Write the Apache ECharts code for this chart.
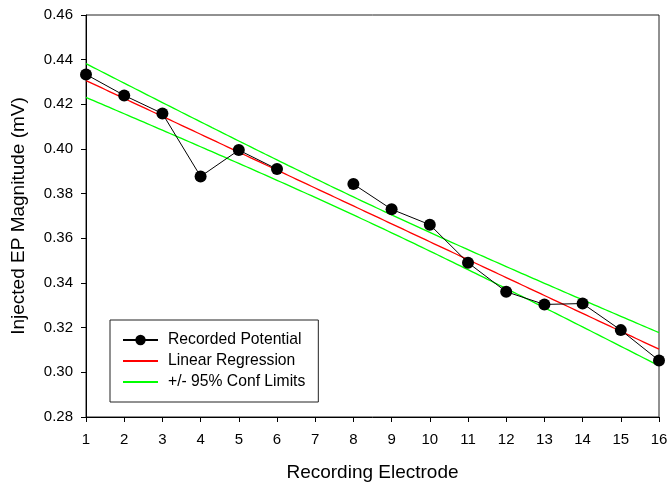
<!DOCTYPE html>
<html>
<head>
<meta charset="utf-8">
<script src="https://cdn.jsdelivr.net/npm/echarts@6/dist/echarts.min.js"></script>
<style>
  html, body { margin: 0; padding: 0; background: #fff; }
  #chart { width: 667px; height: 483px; }
</style>
</head>
<body>
<div id="chart"></div>
<script>
// Recorded EP magnitude at each electrode (electrode 7 has no recording)
const electrode = [1, 2, 3, 4, 5, 6, 8, 9, 10, 11, 12, 13, 14, 15, 16];
const magnitude = [0.4334, 0.4240, 0.4159, 0.3877, 0.3995, 0.3910, 0.3843, 0.3730,
                   0.3661, 0.3491, 0.3361, 0.3304, 0.3308, 0.3189, 0.3053];
const xTicks = [1, 2, 3, 4, 5, 6, 7, 8, 9, 10, 11, 12, 13, 14, 15, 16];
const yTicks = [0.28, 0.30, 0.32, 0.34, 0.36, 0.38, 0.40, 0.42, 0.44, 0.46];
const tCrit = 2.160; // two-sided 95%, df = n - 2 = 13

// Least-squares fit and 95% confidence band of the mean response
const n = electrode.length;
const xMean = electrode.reduce((a, b) => a + b, 0) / n;
const yMean = magnitude.reduce((a, b) => a + b, 0) / n;
let sxx = 0, sxy = 0;
for (let i = 0; i < n; i++) {
  sxx += (electrode[i] - xMean) ** 2;
  sxy += (electrode[i] - xMean) * (magnitude[i] - yMean);
}
const slope = sxy / sxx;
const intercept = yMean - slope * xMean;
let sse = 0;
for (let i = 0; i < n; i++) {
  sse += (magnitude[i] - (intercept + slope * electrode[i])) ** 2;
}
const s = Math.sqrt(sse / (n - 2));

const fitX = [];
for (let k = 0; k <= 150; k++) fitX.push(xTicks[0] + k * (xTicks[xTicks.length - 1] - xTicks[0]) / 150);
const fitLine = [], upper = [], lower = [];
fitX.forEach(x => {
  const y = intercept + slope * x;
  const h = tCrit * s * Math.sqrt(1 / n + (x - xMean) ** 2 / sxx);
  fitLine.push([x, y]);
  upper.push([x, y + h]);
  lower.push([x, y - h]);
});

// Recorded points, with a break in the line where an electrode is missing
const recorded = [];
electrode.forEach((x, i) => {
  if (i > 0 && x - electrode[i - 1] > 1) recorded.push([electrode[i - 1] + 1, '-']);
  recorded.push([x, magnitude[i]]);
});

const font = 'Arial, "Liberation Sans", sans-serif';
const chart = echarts.init(document.getElementById('chart'));
chart.setOption({
  animation: false,
  textStyle: { fontFamily: font },
  grid: {
    left: 86, right: 8, top: 15, bottom: 66,
    containLabel: false, outerBoundsMode: 'none',
    show: true, borderColor: '#222', borderWidth: 1
  },
  legend: {
    orient: 'vertical',
    left: 110, top: 320,
    padding: [12, 13, 12, 12],
    itemWidth: 35, itemHeight: 13, itemGap: 5,
    borderColor: '#222', borderWidth: 1,
    backgroundColor: '#fff',
    textStyle: { fontSize: 15.7, color: '#000', fontFamily: font, lineHeight: 15,
                 padding: [0, 0, 0, 5] },
    data: [
      { name: 'Recorded Potential' },
      { name: 'Linear Regression', itemStyle: { opacity: 0 } },
      { name: '+/- 95% Conf Limits', itemStyle: { opacity: 0 } }
    ]
  },
  xAxis: {
    type: 'value',
    min: xTicks[0], max: xTicks[xTicks.length - 1], interval: 1,
    name: 'Recording Electrode',
    nameLocation: 'middle', nameGap: 46,
    nameTextStyle: { fontSize: 19, color: '#000', fontFamily: font },
    axisLine: { lineStyle: { color: '#000', width: 1 } },
    axisTick: { length: 5, lineStyle: { color: '#000' } },
    axisLabel: { fontSize: 15, color: '#000', margin: 15, fontFamily: font },
    splitLine: { show: false }
  },
  yAxis: {
    type: 'value',
    min: yTicks[0], max: yTicks[yTicks.length - 1], interval: 0.02,
    name: 'Injected EP Magnitude (mV)',
    nameLocation: 'middle', nameGap: 58,
    nameTextStyle: { fontSize: 19, color: '#000', fontFamily: font },
    axisLine: { show: true, lineStyle: { color: '#000', width: 1 } },
    axisTick: { show: true, length: 5, lineStyle: { color: '#000' } },
    axisLabel: { fontSize: 15, color: '#000', margin: 13, fontFamily: font,
                 formatter: v => v.toFixed(2) },
    splitLine: { show: false }
  },
  series: [
    {
      name: '+/- 95% Conf Limits', type: 'line', data: upper,
      showSymbol: false, symbol: 'none',
      lineStyle: { color: '#00ff00', width: 1.3 }, itemStyle: { color: '#00ff00' }, z: 2
    },
    {
      name: '+/- 95% Conf Limits', type: 'line', data: lower,
      showSymbol: false, symbol: 'none',
      lineStyle: { color: '#00ff00', width: 1.3 }, itemStyle: { color: '#00ff00' }, z: 2
    },
    {
      name: 'Linear Regression', type: 'line', data: fitLine,
      showSymbol: false, symbol: 'none',
      lineStyle: { color: '#ff0000', width: 1.3 }, itemStyle: { color: '#ff0000' }, z: 3
    },
    {
      name: 'Recorded Potential', type: 'line',
      data: recorded, connectNulls: false,
      symbol: 'circle', symbolSize: 12,
      lineStyle: { color: '#000', width: 1 },
      itemStyle: { color: '#000' }, z: 4
    }
  ]
});
</script>
</body>
</html>
